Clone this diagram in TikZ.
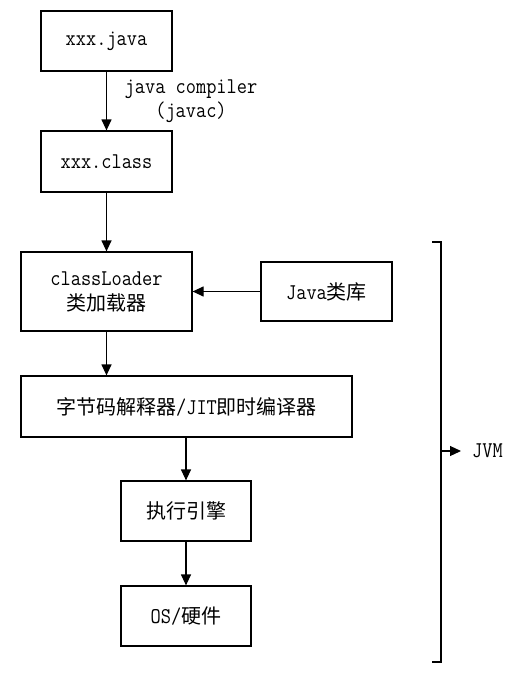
\documentclass[tikz,border=0pt]{standalone}
\usepackage{fontspec}
\setmonofont[FakeStretch=0.88]{Latin Modern Mono}
\newfontfamily\cjk{Noto Sans CJK SC}
\usetikzlibrary{arrows.meta}
\begin{document}
\begin{tikzpicture}[x=1pt,y=-1pt,
  box/.style={draw, line width=1.2pt, rectangle, inner sep=0pt, align=center,
    font=\fontsize{22.5}{25}\selectfont\ttfamily},
  conn/.style={line width=1.2pt, -{Triangle[length=11pt,width=10pt]}},
  lbl/.style={inner sep=0pt, align=center, font=\fontsize{22.5}{24}\selectfont\ttfamily}]
\useasboundingbox (0,0) rectangle (528,677);
\node[box, minimum width=131pt, minimum height=60pt] (java) at (106.5,41) {xxx.java};
\node[box, minimum width=131pt, minimum height=61pt] (class) at (106.5,161.5) {xxx.class};
\node[box, minimum width=171pt, minimum height=79pt] (loader) at (106.5,291.5) {classLoader\\{\cjk\fontsize{20}{25}\selectfont 类加载器}};
\node[box, minimum width=131pt, minimum height=59pt] (lib) at (326.5,291.5) {Java{\cjk\fontsize{20}{25}\selectfont 类库}};
\node[box, minimum width=331pt, minimum height=61pt] (interp) at (186.5,406.5) {{\cjk\fontsize{20}{25}\selectfont 字节码解释器}/JIT{\cjk\fontsize{20}{25}\selectfont 即时编译器}};
\node[box, minimum width=130pt, minimum height=60pt] (engine) at (186,511) {{\cjk\fontsize{20}{25}\selectfont 执行引擎}};
\node[box, minimum width=130pt, minimum height=60pt] (os) at (186,616) {OS/{\cjk\fontsize{20}{25}\selectfont 硬件}};
\node[lbl] (comp) at (191,101) {java compiler\\(javac)};
\node[lbl, anchor=west] (jvm) at (472,451) {JVM};
\coordinate (bt) at (432,242);
\coordinate (bb) at (432,662);
\coordinate (bm) at (441,451);
\draw[conn] (java) -- (class);
\draw[conn] (class) -- (loader);
\draw[conn] (lib) -- (loader);
\draw[conn] (loader.south) -- (loader.south |- interp.north);
\draw[conn] (interp.south -| engine) -- (engine);
\draw[conn] (engine) -- (os);
\draw[line width=1.2pt] (bt) -- (bt -| bm) -- (bb -| bm) -- (bb);
\draw[conn] (bm) -- ([xshift=-11pt]jvm.west);
\end{tikzpicture}
\end{document}
